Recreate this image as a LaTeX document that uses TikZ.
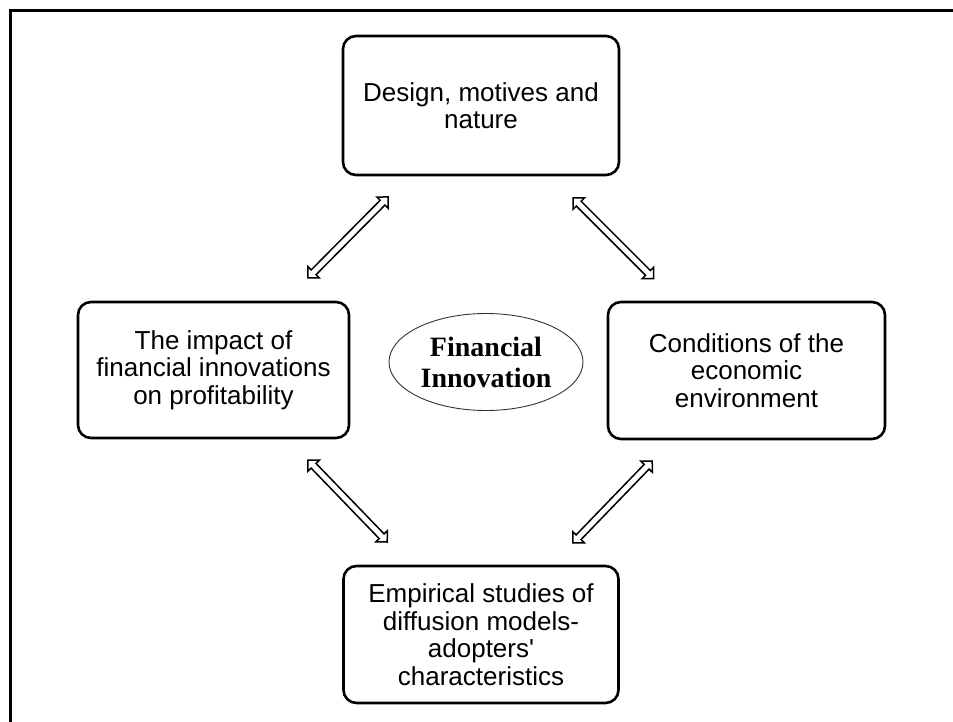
\documentclass[tikz,border=0pt]{standalone}
\usepackage{fontspec}
\setmainfont{Liberation Sans}
\newfontfamily\serifbold{Liberation Serif}
\usetikzlibrary{shapes.geometric}
\begin{document}
\begin{tikzpicture}[x=1pt,y=-1pt,
  box/.style={draw, line width=2.6pt, rounded corners=13pt, align=center,
    font=\fontsize{26pt}{27.5pt}\selectfont, inner sep=0pt},
  ell/.style={draw, ellipse, line width=0.9pt, draw=black!80, align=center,
    font=\serifbold\bfseries\fontsize{28pt}{31pt}\selectfont, inner sep=0pt,
    minimum width=194pt, minimum height=97pt},
  arrowshape/.style={draw, line width=1.5pt, fill=white, line join=miter}]
\useasboundingbox (0,0) rectangle (953,722);
\fill[white] (0,0) rectangle (953,722);
% frame
\draw[line width=3pt] (10,722) -- (10,11) -- (953,11);
% boxes
\node[box, minimum width=276pt, minimum height=139pt] (top) at (481,105.5)
  {Design, motives and\\nature};
\node[box, minimum width=271pt, minimum height=136pt] (left) at (213.5,370)
  {The impact of\\financial innovations\\on profitability};
\node[box, minimum width=277pt, minimum height=137pt] (right) at (746.5,370.5)
  {Conditions of the\\economic\\environment};
\node[box, minimum width=275pt, minimum height=137pt] (bottom) at (481,634.5)
  {Empirical studies of\\diffusion models-\\adopters\textquotesingle\\characteristics};
\node[ell] (fi) at (486,362) {Financial\\Innovation};
% arrow anchor coordinates
\coordinate (a1) at (308,278);
\coordinate (a2) at (573,198);
\coordinate (a3) at (308,460);
\coordinate (a4) at (573,543);
\def\dblarrow{(0,0) -- (8,8) -- (8,3.4) -- (106,3.4) -- (106,8) -- (114,0)
  -- (106,-8) -- (106,-3.4) -- (8,-3.4) -- (8,-8) -- cycle}
\begin{scope}[shift={(a1)}, rotate=45.3]
  \draw[arrowshape] \dblarrow;
\end{scope}
\begin{scope}[shift={(a2)}, rotate=-45]
  \draw[arrowshape] \dblarrow;
\end{scope}
\begin{scope}[shift={(a3)}, rotate=-46]
  \draw[arrowshape] \dblarrow;
\end{scope}
\begin{scope}[shift={(a4)}, rotate=46]
  \draw[arrowshape] \dblarrow;
\end{scope}
\end{tikzpicture}
\end{document}
